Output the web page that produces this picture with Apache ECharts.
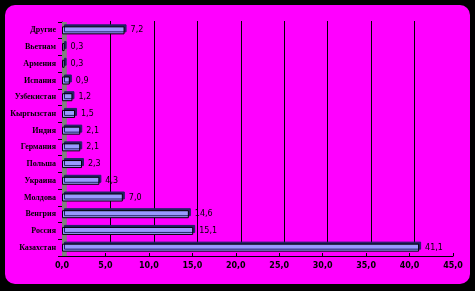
<!DOCTYPE html>
<html><head><meta charset="utf-8">
<script src="https://cdn.jsdelivr.net/npm/echarts@6/dist/echarts.min.js"></script>
<style>
html,body{margin:0;padding:0;background:#000;width:475px;height:291px;overflow:hidden}
#box{position:absolute;left:5px;top:5px;width:465px;height:279px;background:#ff00ff;border-radius:10px}
#c{width:465px;height:279px}
</style></head><body>
<div id="box"><div id="c"></div></div>
<script>
const categories = ['Другие','Вьетнам','Армения','Испания','Узбекистан','Кыргызстан','Индия','Германия','Польша','Украина','Молдова','Венгрия','Россия','Казахстан'];
const values = [7.2,0.3,0.3,0.9,1.2,1.5,2.1,2.1,2.3,4.3,7.0,14.6,15.1,41.1];
const xTicks = {min:0,max:45,interval:5};

const chart = echarts.init(document.getElementById('c'));
const fmt = v => Number(v).toFixed(1).replace('.', ',');
chart.setOption({
  animation:false,
  grid:[
    {left:57, right:17, top:17, bottom:28},
    {left:62, right:12, top:16, bottom:33}
  ],
  xAxis:[
    {gridIndex:0, type:'value', min:xTicks.min, max:xTicks.max, interval:xTicks.interval,
     axisLine:{show:true,lineStyle:{color:'#000',width:1}},
     axisTick:{show:true,inside:true,length:3,lineStyle:{color:'#000'}},
     splitLine:{show:false},
     axisLabel:{formatter:fmt,color:'#000',fontSize:8,fontWeight:'bold',fontFamily:'DejaVu Sans',margin:6}},
    {gridIndex:1, type:'value', min:xTicks.min, max:xTicks.max, interval:xTicks.interval,
     axisLine:{show:false}, axisTick:{show:false}, axisLabel:{show:false},
     splitLine:{show:true,showMinLine:false,showMaxLine:false,lineStyle:{color:'#000',width:1}}}
  ],
  yAxis:[
    {gridIndex:0, type:'category', data:categories, inverse:true,
     axisLine:{show:true,lineStyle:{color:'#000'}},
     axisTick:{show:true,length:4,lineStyle:{color:'#000'}},
     axisLabel:{color:'#000',fontSize:8,fontWeight:'bold',fontFamily:'Liberation Serif',margin:6}},
    {gridIndex:1, type:'category', data:categories, inverse:true, show:false}
  ],
  series:[{
    type:'bar', xAxisIndex:0, yAxisIndex:0, data:values, barWidth:8,
    itemStyle:{color:'#9999ff',borderColor:'#000',borderWidth:1,
      shadowColor:'#222266',shadowOffsetX:2,shadowOffsetY:-2,shadowBlur:0},
    label:{show:true,position:'right',distance:6,formatter:p=>fmt(p.value),
      color:'#000',fontSize:8,fontFamily:'DejaVu Sans'},
    markArea:{silent:true,itemStyle:{color:'#808080'},data:[[{xAxis:0},{xAxis:0.55}]]},
    z:3
  }]
});
</script></body></html>
